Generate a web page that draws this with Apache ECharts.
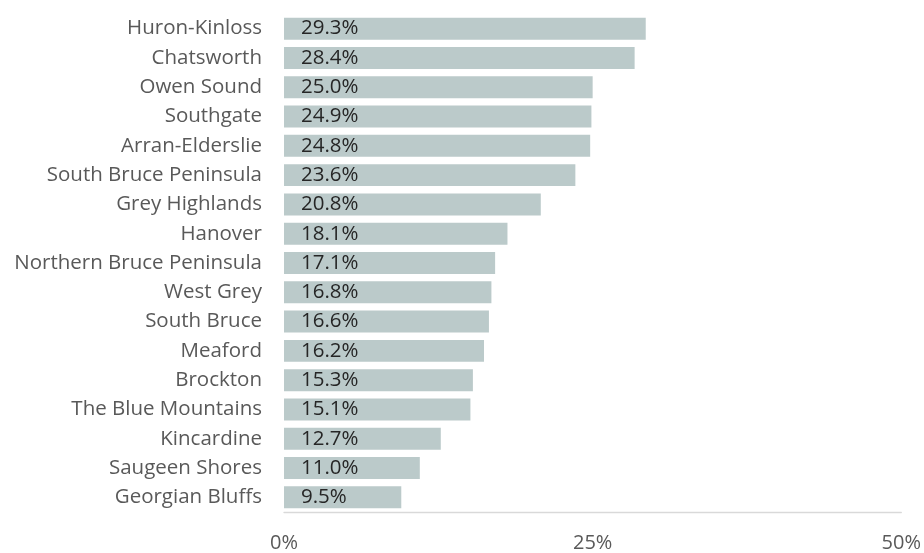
<!DOCTYPE html>
<html><head><meta charset="utf-8">
<script src="https://cdn.jsdelivr.net/npm/echarts@6/dist/echarts.min.js"></script>
<style>html,body{margin:0;padding:0;background:#fff}#c{width:924px;height:553px}</style>
</head><body><div id="c"></div>
<script>
const categories = ["Huron-Kinloss","Chatsworth","Owen Sound","Southgate","Arran-Elderslie","South Bruce Peninsula","Grey Highlands","Hanover","Northern Bruce Peninsula","West Grey","South Bruce","Meaford","Brockton","The Blue Mountains","Kincardine","Saugeen Shores","Georgian Bluffs"];
const values = [29.3,28.4,25.0,24.9,24.8,23.6,20.8,18.1,17.1,16.8,16.6,16.2,15.3,15.1,12.7,11.0,9.5];
const tickLabels = ["0%","25%","50%"];
const font = "'Open Sans', sans-serif";
const chart = echarts.init(document.getElementById('c'));
chart.setOption({
  animation:false,
  grid:{left:284,right:21,top:14,bottom:39,containLabel:false},
  xAxis:{type:'value',min:0,max:50,interval:25,
    axisLine:{show:true,lineStyle:{color:'#D9D9D9',width:1.3}},axisTick:{show:false},splitLine:{show:false},
    axisLabel:{color:'#595959',fontFamily:font,fontSize:20,margin:21,
      formatter:v=>tickLabels[Math.round(v/25)]}},
  yAxis:{type:'category',data:categories.slice().reverse(),
    axisLine:{show:false},axisTick:{show:false},
    axisLabel:{color:'#595959',fontFamily:font,fontSize:20.5,margin:22}},
  series:[{type:'bar',data:values.slice().reverse(),barCategoryGap:'25%',
    itemStyle:{color:'#BBCACA'},
    label:{show:true,position:'insideLeft',offset:[12,0],color:'#262626',fontFamily:font,fontSize:20.5,
      formatter:p=>p.value.toFixed(1)+'%'}}]
});
</script></body></html>
